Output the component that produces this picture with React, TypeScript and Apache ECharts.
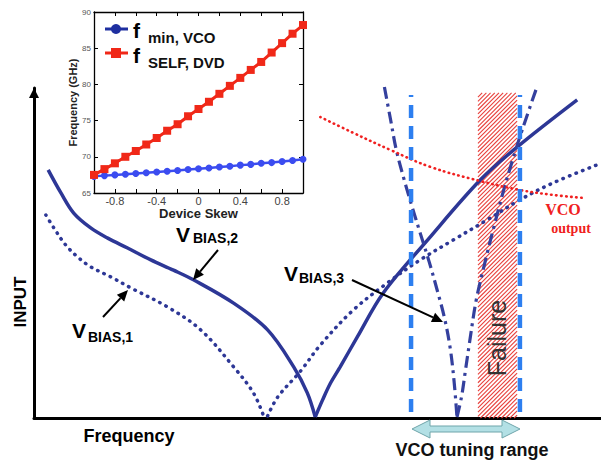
import React, { useEffect, useRef } from 'react';
import * as echarts from 'echarts';

// ---- main diagram (arbitrary units: frequency 0..100, input 0..100) ----
const vBias2Left = [[2.5, 75.2], [4.75, 68.2], [7.0, 62.1], [10.0, 57.6], [13.0, 54.5], [16.5, 51.5], [20.6, 47.9], [24.6, 44.8], [28.2, 41.8], [35.2, 34.8], [41.2, 26.7], [45.8, 15.5], [48.2, 7.6], [49.6, 0.3]];
const vBias2Right = [[49.6, 0.3], [50.9, 5.5], [52.3, 10.6], [54.0, 15.5], [57.0, 24.5], [61.6, 37.9], [69.4, 53.9], [78.7, 72.1], [85.2, 82.1], [95.8, 96.4]];
const vBias1Left = [[2.1, 61.5], [3.5, 57.6], [5.6, 52.4], [7.7, 48.8], [10.0, 45.8], [13.6, 42.7], [17.1, 39.4], [23.6, 33.6], [29.4, 26.7], [35.2, 15.5], [38.7, 7.6], [40.5, 0.6]];
const vBias1Right = [[41.2, 0.6], [43.0, 6.4], [47.0, 14.2], [50.5, 22.1], [56.3, 32.7], [62.3, 40.9], [68.1, 47.9], [73.9, 53.9], [79.9, 60.0], [85.7, 66.1], [91.5, 71.2], [99.3, 76.7]];
const vBias3Left = [[61.8, 100.3], [62.9, 90.3], [63.9, 81.2], [65.3, 72.1], [66.7, 63.9], [68.1, 56.1], [69.7, 47.3], [71.1, 38.8], [72.4, 30.3], [73.4, 21.2], [74.1, 10.9], [74.6, 0.3]];
const vBias3Right = [[74.6, 0.3], [75.4, 6.4], [76.1, 14.5], [76.8, 22.7], [78.0, 35.8], [79.6, 47.6], [81.2, 58.5], [82.7, 68.2], [84.3, 77.6], [86.1, 87.3], [88.7, 100.3]];
const vcoOutput = [[50.5, 91.2], [56.3, 86.4], [62.9, 81.2], [69.9, 76.1], [78.7, 71.8], [85.7, 69.1], [91.5, 67.6], [96.8, 66.7]];
const tuningEdges = [66.5, 85.7];
const tuningSpan = [1.8, 97.9];
const failureBand = [78.3, 85.2];
const failureTop = 98.5;

// ---- inset ----
const skew = [-1, -0.9, -0.8, -0.7, -0.6, -0.5, -0.4, -0.3, -0.2, -0.1, 0, 0.1, 0.2, 0.3, 0.4, 0.5, 0.6, 0.7, 0.8, 0.9, 1];
const fSelfDvd = [67.5, 68.3, 69.1, 70.0, 70.8, 71.7, 72.6, 73.6, 74.5, 75.6, 76.6, 77.6, 78.7, 79.8, 80.9, 82.0, 83.1, 84.4, 85.7, 87.0, 88.2];
const fMinVco = [67.3, 67.4, 67.5, 67.6, 67.7, 67.8, 67.9, 68.0, 68.1, 68.25, 68.35, 68.45, 68.6, 68.7, 68.85, 68.95, 69.1, 69.2, 69.35, 69.5, 69.65];
const insetXTickLabels = ['-0.8', '-0.4', '0', '0.4', '0.8'];

const NAVY = '#2D3796';
const SANS = 'Liberation Sans, Arial, sans-serif';

function arrow(x1: number, y1: number, x2: number, y2: number) {
  const ang = Math.atan2(y2 - y1, x2 - x1);
  const L = 11, W = 5;
  const bx = x2 - L * Math.cos(ang), by = y2 - L * Math.sin(ang);
  const px = -Math.sin(ang) * W, py = Math.cos(ang) * W;
  return [
    { type: 'line', z: 100, shape: { x1, y1, x2: bx, y2: by }, style: { stroke: '#000', lineWidth: 2 } },
    { type: 'polygon', z: 100, shape: { points: [[x2, y2], [bx + px, by + py], [bx - px, by - py]] }, style: { fill: '#000' } },
  ];
}

function txt(text: string, x: number, y: number, font: string, fill = '#000', align = 'left', rotation = 0) {
  return { type: 'text', z: 100, x, y, rotation, style: { text, font, fill, textAlign: align, textVerticalAlign: 'middle' } };
}

export default function App() {
  const ref = useRef<HTMLDivElement>(null);
  useEffect(() => {
    document.body.style.margin = '0';
    const chart = echarts.init(ref.current!, null, { renderer: 'svg' });
    const mainLine = (data: number[][], lineStyle: any) => ({
      type: 'line', xAxisIndex: 0, yAxisIndex: 0, data, showSymbol: false, symbol: 'none', smooth: 0.35, clip: false, z: 3,
      lineStyle,
    });
    const solid = { color: NAVY, width: 3.5 };
    const dotted = { color: NAVY, width: 3.5, type: [0.5, 6.5], cap: 'round' };
    const dashDot = { color: '#34409E', width: 3.2, type: [12, 5, 3, 5] };
    const option: any = {
      animation: false,
      backgroundColor: '#fff',
      grid: [
        { left: 34, top: 88, width: 567, height: 330 },
        { left: 94, top: 12, width: 209, height: 181 },
      ],
      xAxis: [
        { type: 'value', gridIndex: 0, min: 0, max: 100, axisLine: { show: true, lineStyle: { color: '#000', width: 3 } }, axisTick: { show: false }, axisLabel: { show: false }, splitLine: { show: false } },
        {
          type: 'value', gridIndex: 1, min: -1, max: 1, interval: 0.2,
          axisLine: { show: true, onZero: false, lineStyle: { color: '#000', width: 1.3 } },
          axisTick: { show: true, inside: true, length: 4, lineStyle: { color: '#000' } },
          axisLabel: {
            color: '#444', fontSize: 11, margin: 2, fontFamily: SANS,
            formatter: (v: number) => insetXTickLabels.find((s) => Math.abs(parseFloat(s) - v) < 1e-6) ?? '',
          },
          splitLine: { show: false },
          name: 'Device Skew', nameLocation: 'middle', nameGap: 10,
          nameTextStyle: { color: '#222', fontSize: 13, fontWeight: 'bold', fontFamily: SANS },
        },
        {
          type: 'value', gridIndex: 1, min: -1, max: 1, interval: 0.2, position: 'top',
          axisLine: { show: true, onZero: false, lineStyle: { color: '#000', width: 1.3 } },
          axisTick: { show: true, inside: true, length: 4, lineStyle: { color: '#000' } },
          axisLabel: { show: false }, splitLine: { show: false },
        },
      ],
      yAxis: [
        {
          type: 'value', gridIndex: 0, min: 0, max: 100,
          axisLine: { show: true, symbol: ['none', 'triangle'], symbolSize: [10, 10], symbolOffset: [0, -5], lineStyle: { color: '#000', width: 3 } },
          axisTick: { show: false }, axisLabel: { show: false }, splitLine: { show: false },
        },
        {
          type: 'value', gridIndex: 1, min: 65, max: 90, interval: 5,
          axisLine: { show: true, onZero: false, lineStyle: { color: '#000', width: 1.3 } },
          axisTick: { show: true, inside: true, length: 4, lineStyle: { color: '#000' } },
          axisLabel: { color: '#555', fontSize: 8, margin: 3, fontFamily: SANS },
          splitLine: { show: false },
          name: 'Frequency (GHz)', nameLocation: 'middle', nameGap: 16,
          nameTextStyle: { color: '#222', fontSize: 11, fontWeight: 'bold', fontFamily: SANS },
        },
        {
          type: 'value', gridIndex: 1, min: 65, max: 90, interval: 5, position: 'right',
          axisLine: { show: true, onZero: false, lineStyle: { color: '#000', width: 1.3 } },
          axisTick: { show: true, inside: true, length: 4, lineStyle: { color: '#000' } },
          axisLabel: { show: false }, splitLine: { show: false },
        },
      ],
      series: [
        {
          type: 'custom', xAxisIndex: 0, yAxisIndex: 0, z: 1, clip: false,
          data: [[failureBand[0], failureBand[1], failureTop]],
          encode: { x: [0, 1], y: 2 },
          renderItem: (params: any, api: any) => {
            const a = api.coord([api.value(0), api.value(2)]);
            const b = api.coord([api.value(1), 0]);
            const x0 = a[0], y0 = a[1], x1 = b[0], y1 = b[1];
            const children: any[] = [];
            for (let c = x0 + y0; c <= x1 + y1; c += 4.2) {
              const xa = Math.max(x0, c - y1);
              const xb = Math.min(x1, c - y0);
              if (xb > xa) children.push({ type: 'line', shape: { x1: xa, y1: c - xa, x2: xb, y2: c - xb }, style: { stroke: '#E8403C', lineWidth: 1.1 } });
            }
            return { type: 'group', children };
          },
        },
        mainLine(vBias2Left, solid),
        mainLine(vBias2Right, solid),
        mainLine(vBias1Left, dotted),
        mainLine(vBias1Right, dotted),
        mainLine(vBias3Left, dashDot),
        mainLine(vBias3Right, dashDot),
        { ...mainLine(vcoOutput, { color: '#F02020', width: 2.6, type: [0.5, 4.5], cap: 'round' }), smooth: 0.4 },
        ...tuningEdges.map((x) => ({
          type: 'line', xAxisIndex: 0, yAxisIndex: 0, showSymbol: false, symbol: 'none', z: 5,
          data: [[x, tuningSpan[0]], [x, tuningSpan[1]]],
          lineStyle: { color: '#2D7FF0', width: 4.5, type: [13, 8] },
        })),
        {
          type: 'line', xAxisIndex: 1, yAxisIndex: 1, data: skew.map((s, i) => [s, fMinVco[i]]),
          symbol: 'circle', symbolSize: 7, lineStyle: { color: '#3B4CF0', width: 2.5 }, itemStyle: { color: '#3B4CF0' },
        },
        {
          type: 'line', xAxisIndex: 1, yAxisIndex: 1, data: skew.map((s, i) => [s, fSelfDvd[i]]),
          symbol: 'rect', symbolSize: 8, lineStyle: { color: '#F02818', width: 3 }, itemStyle: { color: '#F02818' },
        },
      ],
      graphic: [
        // inset legend
        { type: 'line', z: 100, shape: { x1: 105, y1: 29, x2: 128, y2: 29 }, style: { stroke: '#1E2FA0', lineWidth: 3 } },
        { type: 'circle', z: 100, shape: { cx: 116, cy: 29, r: 5 }, style: { fill: '#1E2FA0' } },
        { type: 'line', z: 100, shape: { x1: 105, y1: 53, x2: 128, y2: 53 }, style: { stroke: '#F02818', lineWidth: 3 } },
        { type: 'rect', z: 100, shape: { x: 111, y: 48, width: 10, height: 10 }, style: { fill: '#F02818' } },
        txt('f', 133, 30, `bold 21px ${SANS}`),
        txt('min, VCO', 148, 37, `bold 15px ${SANS}`, '#111'),
        txt('f', 133, 55, `bold 21px ${SANS}`),
        txt('SELF, DVD', 148, 62.5, `bold 15px ${SANS}`, '#111'),
        // main labels
        txt('INPUT', 20, 302, `bold 17px ${SANS}`, '#000', 'center', Math.PI / 2),
        txt('Frequency', 129, 436, `bold 18px ${SANS}`, '#000', 'center'),
        txt('VCO tuning range', 472, 450, `bold 18px ${SANS}`, '#111', 'center'),
        txt('V', 176, 234.5, `bold 21px ${SANS}`),
        txt('BIAS,2', 193, 238, `bold 14px ${SANS}`),
        txt('V', 72, 330, `bold 21px ${SANS}`),
        txt('BIAS,1', 88, 336.5, `bold 14px ${SANS}`),
        txt('V', 284, 273.5, `bold 21px ${SANS}`),
        txt('BIAS,3', 299, 278, `bold 14px ${SANS}`),
        txt('VCO', 563, 209, `bold 16px Liberation Serif, Times New Roman, serif`, '#F02020', 'center'),
        txt('output', 571, 228, `bold 14px Liberation Serif, Times New Roman, serif`, '#F02020', 'center'),
        txt('Failure', 497, 338, `25px ${SANS}`, '#333', 'center', Math.PI / 2),
        ...arrow(218, 250, 193, 280),
        ...arrow(103, 317, 128, 290),
        ...arrow(352, 280, 443, 322),
        {
          type: 'polygon', z: 100,
          shape: { points: [[412, 429], [430, 420], [430, 426], [502, 426], [502, 420], [520, 429], [502, 438], [502, 432], [430, 432], [430, 438]] },
          style: { fill: '#B3E0E5', stroke: '#6FA5AA', lineWidth: 1 },
        },
      ],
    };
    chart.setOption(option);
    return () => chart.dispose();
  }, []);
  return <div ref={ref} style={{ width: 601, height: 463, position: 'absolute', left: 0, top: 0 }} />;
}
